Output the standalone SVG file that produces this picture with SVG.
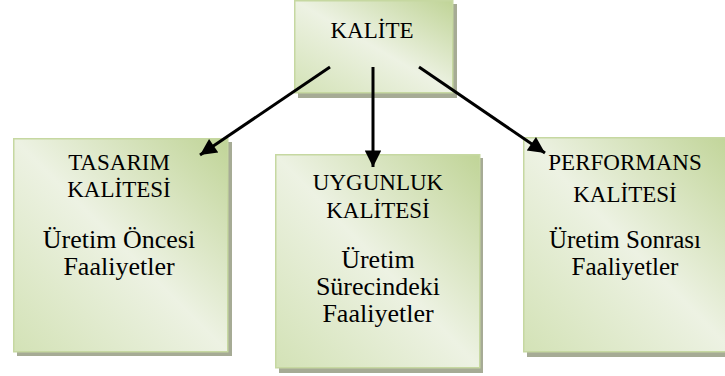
<svg xmlns="http://www.w3.org/2000/svg" width="725" height="376" viewBox="0 0 725 376">
<defs>
<linearGradient id="g" x1="1" y1="0" x2="0" y2="1">
<stop offset="0" stop-color="#c0d497"/>
<stop offset="0.5" stop-color="#edf2e3"/>
<stop offset="1" stop-color="#d3e2b6"/>
</linearGradient>
<marker id="ah" viewBox="0 0 10 10" refX="10" refY="5" markerWidth="6.5" markerHeight="5.5" markerUnits="strokeWidth" orient="auto">
<path d="M0,0 L10,5 L0,10 z" fill="#000"/>
</marker>
</defs>
<style>
.shadow{fill:#a6ab95}
.box{fill:url(#g);stroke:#c6d8a1;stroke-width:1.5}
.h{font-family:"Liberation Serif","Times New Roman",serif;font-size:23px;fill:#000;text-anchor:middle}
.b{font-family:"Liberation Serif","Times New Roman",serif;font-size:26px;fill:#000;text-anchor:middle}
.conn{stroke:#000;stroke-width:3;fill:none;marker-end:url(#ah)}
</style>
<rect width="725" height="376" fill="#fff"/>
<g id="kalite">
<rect class="shadow" x="298" y="4" width="159" height="94"/>
<rect class="box" x="294.75" y="0.75" width="158" height="92"/>
<text class="h" x="372" y="38">KALİTE</text>
</g>
<g id="tasarim">
<rect class="shadow" x="17" y="142" width="215" height="214"/>
<rect class="box" x="13.75" y="138.75" width="214" height="213"/>
<text class="h" x="119" y="170">TASARIM</text>
<text class="h" x="119" y="197">KALİTESİ</text>
<text class="b" x="119" y="248">Üretim Öncesi</text>
<text class="b" x="119" y="275">Faaliyetler</text>
</g>
<g id="uygunluk">
<rect class="shadow" x="279" y="158" width="204" height="215"/>
<rect class="box" x="275.75" y="154.75" width="204" height="213"/>
<text class="h" x="378" y="190">UYGUNLUK</text>
<text class="h" x="378" y="218">KALİTESİ</text>
<text class="b" x="378" y="268">Üretim</text>
<text class="b" x="378" y="295">Sürecindeki</text>
<text class="b" x="378" y="322">Faaliyetler</text>
</g>
<g id="performans">
<rect class="shadow" x="527" y="141" width="210" height="216"/>
<rect class="box" x="523.75" y="137.75" width="210" height="214"/>
<text class="h" x="625" y="170">PERFORMANS</text>
<text class="h" x="625" y="202">KALİTESİ</text>
<text class="b" x="625" y="248" style="font-size:25px">Üretim Sonrası</text>
<text class="b" x="625" y="275" style="font-size:25px">Faaliyetler</text>
</g>
<g id="connectors">
<line class="conn" x1="330" y1="67" x2="200" y2="155"/>
<line class="conn" x1="373" y1="67" x2="373" y2="167"/>
<line class="conn" x1="419" y1="67" x2="545" y2="153"/>
</g>
</svg>
